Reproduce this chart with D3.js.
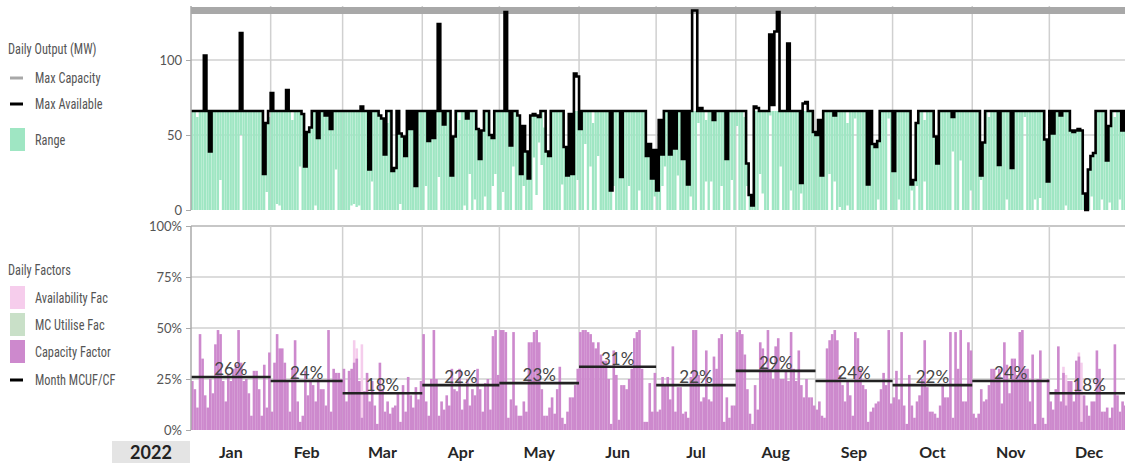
<!DOCTYPE html>
<html>
<head>
<meta charset="utf-8">
<script src="https://cdn.jsdelivr.net/npm/d3@7"></script>
<style>
  body { margin: 0; background: #fff; overflow: hidden; }
  svg { display: block; }
  .legend text { font-family: "Liberation Sans Narrow", "Roboto Condensed", "DejaVu Sans Condensed", Roboto, sans-serif; fill: #555; font-size: 14px; }
  .axis text { font-family: Lato, "Open Sans", sans-serif; font-size: 13px; fill: #555; }
</style>
</head>
<body>
<svg id="chart" width="1125" height="463"></svg>
<script>
// ---- data -------------------------------------------------------------
const yearLabel = "2022";
const months = ["Jan","Feb","Mar","Apr","May","Jun","Jul","Aug","Sep","Oct","Nov","Dec"];
const monthMeanCF = [26,24,18,22,23,31,22,29,24,22,24,18];   // % per month
const outputTicks = [0,50,100];
const factorTicks = [0,25,50,75,100];
const maxCapacity = 133;                                      // MW

// daily max available (MW), one value per day of 2022
const maxAvailable = [
  66,66,66,66,66,103,66,39,66,66, 66,66,66,66,66,66,66,66,66,118, 66,66,66,66,66,66,66,66,24,58, 66,
  78,66,66,66,66,66,80,66,66,66, 66,66,64,29,52,55,66,66,48,66, 66,63,66,54,66,66,66,66,
  66,66,66,66,66,66,66,69,66,66, 27,66,66,66,63,61,37,66,66,26, 28,66,51,49,36,66,54,66,16,66, 66,
  66,66,46,66,48,66,124,66,57,66, 66,23,49,66,66,66,66,61,66,66, 66,54,34,53,66,66,50,48,66,66,
  66,66,132,66,43,66,66,63,24,56, 39,21,63,64,63,62,66,66,39,36, 66,66,66,66,66,42,23,64,24,91, 89,
  54,66,66,66,66,66,66,66,66,66, 66,66,13,66,66,66,22,66,66,66, 66,66,66,66,66,66,36,44,21,40,
  13,60,37,66,66,37,66,41,66,66, 34,66,17,66,133,133,66,68,66,66, 66,66,60,66,66,66,66,34,66,66, 66,
  66,66,66,66,31,10,3,69,68,66, 66,66,66,117,70,119,132,66,66,66, 111,66,66,66,66,18,71,72,66,66, 52,
  50,60,23,66,66,66,66,63,66,66, 66,66,66,66,66,66,66,66,66,66, 17,66,44,42,46,66,66,66,66,66,
  26,66,66,66,66,66,66,17,20,58, 66,66,66,66,66,66,49,31,66,66, 66,66,66,62,66,66,66,66,66,66, 66,
  66,66,66,23,45,66,66,66,66,66, 30,66,66,66,66,28,66,66,66,66, 66,66,66,66,66,66,66,66,47,19,
  66,51,66,66,63,66,66,66,53,52, 53,54,53,11,0,27,36,38,66,66, 66,66,33,56,66,66,66,66,53,66, 66
];

// daily output range (MW): highest and lowest output of each day
const outputMax = [
  66,66,62,66,66,66,66,66,66,66, 66,66,66,66,66,66,66,66,66,66, 66,66,66,66,66,66,66,66,66,66, 62,
  66,66,66,66,66,66,66,66,60,66, 66,66,66,66,66,66,66,66,66,66, 66,66,66,66,66,66,66,66,
  66,66,66,66,66,66,66,66,66,66, 66,66,66,66,66,66,66,58,66,66, 66,66,66,66,66,66,66,66,66,66, 66,
  66,66,66,66,66,66,66,66,66,66, 66,66,66,66,60,66,66,66,66,66, 66,66,66,66,66,66,66,66,66,66,
  66,66,66,66,66,66,66,66,66,66, 66,66,66,66,66,66,66,55,66,66, 66,66,66,66,66,66,66,66,66,66, 66,
  66,66,66,66,66,58,66,66,66,66, 66,66,66,66,66,66,66,66,66,66, 66,66,66,66,66,66,66,66,66,66,
  66,66,66,66,66,66,66,66,66,66, 66,66,66,66,66,66,66,66,66,60, 66,66,66,66,66,66,66,66,66,66, 66,
  66,66,66,62,66,66,66,66,66,66, 66,66,66,66,66,66,66,66,66,66, 66,66,66,66,66,66,66,66,66,66, 66,
  66,66,66,66,66,66,66,66,66,66, 66,66,58,66,66,66,66,66,66,66, 66,66,66,66,66,66,66,66,66,66,
  66,66,66,66,66,66,66,66,66,66, 66,66,60,66,66,66,66,66,66,66, 66,66,66,66,66,66,66,66,66,66, 66,
  66,66,66,66,66,66,62,66,66,66, 66,66,66,66,66,66,66,66,66,66, 66,66,66,66,66,66,66,66,66,66,
  66,66,66,66,66,66,66,66,66,66, 66,66,66,66,66,66,66,66,66,66, 66,66,66,66,66,62,66,66,66,66, 66
];
const outputMin = [
  0,0,0,0,0,0,0,0,0,0, 0,20,0,0,0,0,0,0,0,50, 0,0,0,0,0,0,0,0,0,12, 0,
  0,0,4,3,0,0,0,0,0,0, 0,29,0,0,0,0,0,3,0,0, 0,0,0,0,0,27,0,0,
  0,0,0,3,4,2,3,0,0,0, 0,19,0,0,0,0,0,0,0,0, 0,0,4,0,0,0,0,0,0,0, 0,
  0,16,0,0,0,0,22,0,0,0, 0,0,0,0,0,0,3,0,24,0, 7,0,0,0,9,0,0,16,24,0,
  0,12,0,0,0,29,0,0,0,16, 0,0,0,35,10,45,30,0,0,0, 0,0,0,0,17,0,0,0,0,0, 20,
  0,0,44,0,29,0,0,36,0,0, 0,0,0,16,0,0,0,0,0,16, 0,0,0,13,0,0,0,0,0,9,
  0,0,16,29,0,0,0,0,23,0, 0,0,0,9,0,0,58,0,0,19, 0,19,0,0,0,16,0,0,0,20, 0,
  56,0,0,0,16,0,0,0,0,24, 11,0,0,63,0,0,0,29,0,0, 0,13,0,0,0,11,0,0,0,0, 0,
  0,0,0,0,0,24,0,19,0,2, 0,0,3,0,0,61,0,0,0,0, 0,0,0,0,7,0,0,0,61,0,
  0,0,7,0,0,0,0,13,0,16, 0,0,19,0,0,0,0,0,0,0, 0,0,0,39,0,0,33,0,0,0, 13,
  0,0,0,20,0,0,0,0,0,0, 0,0,0,7,0,0,0,0,0,0, 62,0,0,0,7,0,8,0,0,0,
  0,0,0,0,0,0,3,0,0,0, 0,0,0,0,0,0,9,0,0,0, 7,0,0,5,0,0,0,7,0,0, 0
];

// daily capacity factor (%)
const capacityFactor = [
  24,20,11,47,35,17,11,25,18,42, 49,47,24,14,27,24,30,32,49,33, 24,25,18,7,29,29,20,7,32,11, 38,
  9,33,47,40,40,33,24,9,30,44, 14,4,7,29,17,24,22,14,25,20, 20,12,49,9,30,28,28,25,
  30,14,29,30,33,35,24,6,19,28, 14,24,12,3,33,20,9,14,8,11, 12,18,4,22,9,26,17,11,21,15, 24,
  47,14,7,25,49,25,7,14,10,17, 12,30,20,19,30,10,15,25,12,20, 17,30,20,9,23,25,10,46,49,27,
  49,49,48,6,15,48,12,7,7,14, 9,43,43,48,49,43,20,7,7,11, 16,8,20,31,6,3,9,16,16,22, 30,
  48,49,49,48,47,43,40,43,37,34, 34,25,3,39,27,5,22,22,20,25, 30,45,48,49,30,4,4,23,9,28,
  9,10,26,22,26,15,41,9,21,21, 8,9,6,26,49,49,27,14,16,39, 15,14,36,30,45,47,4,16,6,12, 12,
  48,49,47,37,20,8,3,22,10,43, 40,30,49,30,25,41,45,25,25,29, 24,48,30,24,39,22,16,25,16,16, 12,
  10,14,7,6,40,44,47,49,44,27, 22,14,24,17,7,48,45,30,22,20, 4,9,11,13,14,20,28,22,49,13,
  16,29,15,48,12,3,27,12,6,14, 17,25,44,21,9,9,8,6,12,22, 16,16,48,6,48,30,49,14,14,43, 39,
  8,6,8,20,14,15,22,30,30,25, 30,13,43,32,18,35,35,27,48,49, 30,30,14,37,3,25,39,6,3,25,
  14,10,20,41,14,28,12,24,24,14, 34,36,4,17,12,7,14,14,39,30, 9,9,11,6,11,42,17,9,14,12, 10
];

// days where the availability factor stands above the capacity factor (%)
const availabilityPeaks = [
  ["2022-03-05", 44], ["2022-03-06", 40], ["2022-03-08", 42],
  ["2022-12-06", 31], ["2022-12-07", 27], ["2022-12-12", 38], ["2022-12-13", 33]
];

// ---- scales -----------------------------------------------------------
const svg = d3.select("#chart");
const start = new Date(Date.UTC(2022, 0, 1));
const end = new Date(Date.UTC(2023, 0, 1));
const days = d3.utcDay.range(start, end);
const monthStarts = d3.utcMonth.range(start, end);
const parse = d3.utcParse("%Y-%m-%d");

const x = d3.scaleUtc().domain([start, end]).range([191, 1129]);
const yTop = d3.scaleLinear().domain([0, 136]).range([210, 6]);
const yBot = d3.scaleLinear().domain([0, 100]).range([430, 226]);
const dayW = d => x(d3.utcDay.offset(d, 1)) - x(d);

const gridColor = "#d0d0d0";

// ---- upper panel: daily output ---------------------------------------
const outPanel = svg.append("g");

outPanel.append("g").selectAll("line").data(outputTicks.filter(t => t > 0)).join("line")
  .attr("x1", 191).attr("x2", 1129)
  .attr("y1", d => yTop(d)).attr("y2", d => yTop(d))
  .attr("stroke", gridColor).attr("stroke-width", 1.5);
outPanel.append("g").selectAll("line").data(monthStarts.slice(1)).join("line")
  .attr("x1", d => x(d)).attr("x2", d => x(d))
  .attr("y1", 6).attr("y2", 210)
  .attr("stroke", gridColor).attr("stroke-width", 1.5);

// range bars
outPanel.append("g").selectAll("rect").data(days).join("rect")
  .attr("x", d => x(d))
  .attr("width", d => dayW(d) - 0.22)
  .attr("y", (d, i) => yTop(Math.min(outputMax[i], maxAvailable[i])))
  .attr("height", (d, i) => Math.max(0, yTop(outputMin[i]) - yTop(Math.min(outputMax[i], maxAvailable[i]))))
  .attr("fill", "#9fe6c3");

// max capacity
outPanel.append("line")
  .attr("x1", x(start)).attr("x2", x(end))
  .attr("y1", yTop(maxCapacity)).attr("y2", yTop(maxCapacity))
  .attr("stroke", "#a8a8a8").attr("stroke-width", 7);

// max available step line
const availPts = days.map((d, i) => [x(d), yTop(maxAvailable[i])]);
availPts.push([x(end), yTop(maxAvailable[maxAvailable.length - 1])]);
outPanel.append("path")
  .attr("d", d3.line().curve(d3.curveStepAfter)(availPts))
  .attr("fill", "none").attr("stroke", "#000").attr("stroke-width", 2.6)
  .attr("stroke-linejoin", "miter");

const axTop = outPanel.append("g").attr("class", "axis").attr("transform", "translate(191,0)")
  .call(d3.axisLeft(yTop).tickValues(outputTicks).tickSize(5).tickPadding(4));
axTop.select(".domain").attr("d", "M0,6V210").attr("stroke", "#aaa").attr("stroke-width", 1.5);
axTop.selectAll(".tick line").attr("stroke", "#aaa");

// ---- lower panel: daily factors --------------------------------------
const facPanel = svg.append("g");

facPanel.append("g").selectAll("line").data(factorTicks.filter(t => t > 0)).join("line")
  .attr("x1", 191).attr("x2", 1129)
  .attr("y1", d => yBot(d)).attr("y2", d => yBot(d))
  .attr("stroke", d => d === 100 ? "#b5b5b5" : gridColor).attr("stroke-width", 1.5);
facPanel.append("g").selectAll("line").data(monthStarts.slice(1)).join("line")
  .attr("x1", d => x(d)).attr("x2", d => x(d))
  .attr("y1", 226).attr("y2", 430)
  .attr("stroke", gridColor).attr("stroke-width", 1.5);

facPanel.append("g").selectAll("rect").data(availabilityPeaks).join("rect")
  .attr("x", d => x(parse(d[0])))
  .attr("width", d => dayW(parse(d[0])))
  .attr("y", d => yBot(d[1]))
  .attr("height", d => yBot(0) - yBot(d[1]))
  .attr("fill", "#f5cdec");

facPanel.append("g").selectAll("rect").data(days).join("rect")
  .attr("x", d => x(d))
  .attr("width", d => dayW(d) + 0.05)
  .attr("y", (d, i) => yBot(capacityFactor[i]))
  .attr("height", (d, i) => yBot(0) - yBot(capacityFactor[i]))
  .attr("fill", "#cd89cd");

// monthly means
const meanG = facPanel.append("g");
monthStarts.forEach((m, i) => {
  const m2 = d3.utcMonth.offset(m, 1);
  const yv = yBot(monthMeanCF[i]);
  meanG.append("line")
    .attr("x1", x(m)).attr("x2", x(m2)).attr("y1", yv).attr("y2", yv)
    .attr("stroke", "#222").attr("stroke-width", 2.6);
  meanG.append("text")
    .attr("x", (x(m) + x(m2)) / 2).attr("y", yv - 2)
    .attr("text-anchor", "middle")
    .attr("font-family", "Lato, 'Open Sans', sans-serif").attr("font-size", 17)
    .attr("fill", "#454545")
    .text(monthMeanCF[i] + "%");
});

const axBot = facPanel.append("g").attr("class", "axis").attr("transform", "translate(191,0)")
  .call(d3.axisLeft(yBot).tickValues(factorTicks).tickFormat(d => d + "%").tickSize(5).tickPadding(4));
axBot.select(".domain").attr("d", "M0,226V430").attr("stroke", "#aaa").attr("stroke-width", 1.5);
axBot.selectAll(".tick line").attr("stroke", "#aaa");

// ---- month axis -------------------------------------------------------
svg.append("rect").attr("x", 112).attr("y", 441).attr("width", 78).attr("height", 22).attr("fill", "#e4e4e4");
svg.append("text").attr("x", 151).attr("y", 459).attr("text-anchor", "middle")
  .attr("font-family", "Lato, 'Open Sans', sans-serif").attr("font-weight", 700).attr("font-size", 18)
  .attr("fill", "#222").text(yearLabel);
svg.append("g").selectAll("text").data(monthStarts).join("text")
  .attr("x", d => (x(d) + x(d3.utcMonth.offset(d, 1))) / 2)
  .attr("y", 458)
  .attr("text-anchor", "middle")
  .attr("font-family", "Lato, 'Open Sans', sans-serif").attr("font-weight", 700).attr("font-size", 16)
  .attr("fill", "#262626")
  .text((d, i) => months[i]);

// ---- legends (narrow lettering) --------------------------------------
const lg = svg.append("g").attr("class", "legend");
const legendText = (tx, ty, label) =>
  lg.append("text").attr("transform", `translate(${tx},${ty}) scale(0.88,1)`).text(label);

legendText(8, 54, "Daily Output (MW)");
lg.append("line").attr("x1", 10).attr("x2", 23).attr("y1", 78).attr("y2", 78).attr("stroke", "#a8a8a8").attr("stroke-width", 3);
legendText(35, 83, "Max Capacity");
lg.append("line").attr("x1", 10).attr("x2", 23).attr("y1", 104).attr("y2", 104).attr("stroke", "#000").attr("stroke-width", 3);
legendText(35, 109, "Max Available");
lg.append("rect").attr("x", 10).attr("y", 128).attr("width", 15).attr("height", 23).attr("fill", "#9fe6c3");
legendText(35, 145, "Range");

legendText(8, 275, "Daily Factors");
const factorLegend = [["Availability Fac", "#f6cdec", 286], ["MC Utilise Fac", "#c9e0c8", 313], ["Capacity Factor", "#cd89cd", 340]];
factorLegend.forEach(([label, color, y0]) => {
  lg.append("rect").attr("x", 10).attr("y", y0).attr("width", 15).attr("height", 23).attr("fill", color);
  legendText(35, y0 + 17, label);
});
lg.append("line").attr("x1", 10).attr("x2", 23).attr("y1", 380).attr("y2", 380).attr("stroke", "#000").attr("stroke-width", 3);
legendText(35, 385, "Month MCUF/CF");
</script>
</body>
</html>
